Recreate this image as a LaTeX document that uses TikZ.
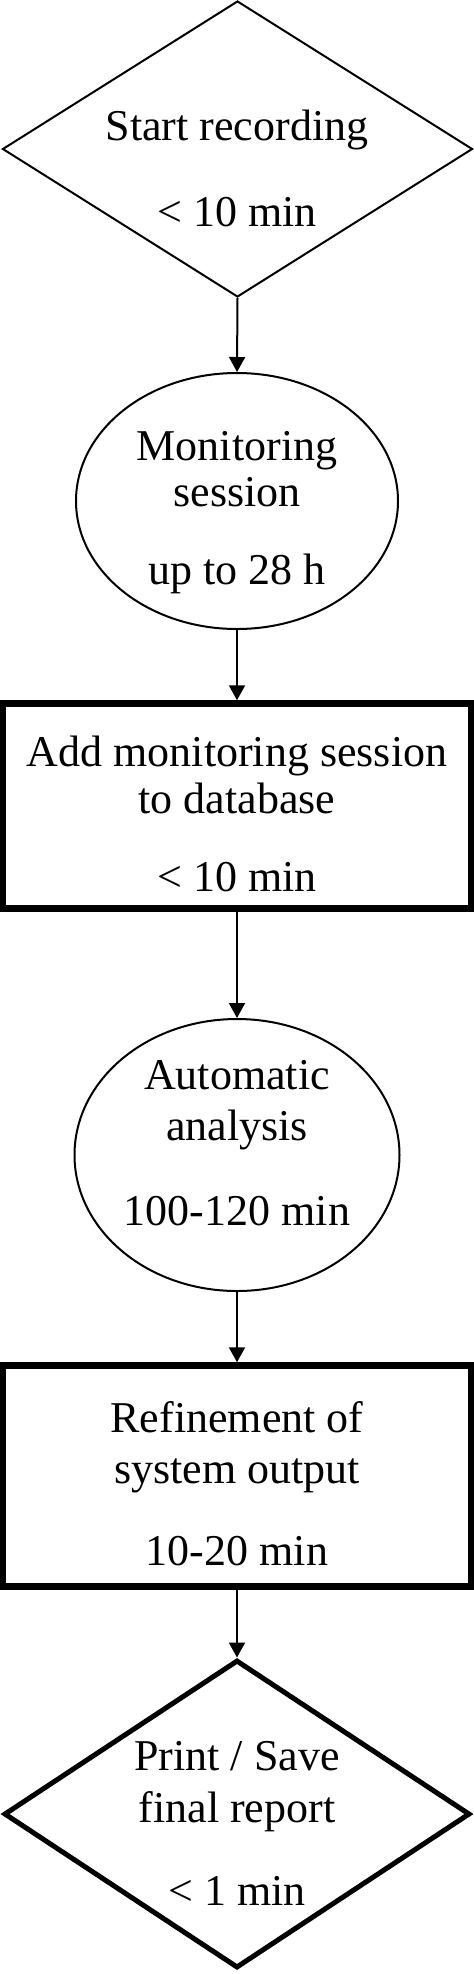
\documentclass[tikz,border=0pt]{standalone}
\usepackage{fontspec}
\setmainfont{Liberation Serif}
\usetikzlibrary{shapes.geometric,arrows.meta}
\tikzset{
  diamthin/.style={draw, diamond, inner sep=0pt, line width=2pt},
  diamthick/.style={draw, diamond, inner sep=0pt, line width=5pt},
  oval/.style={draw, ellipse, inner sep=0pt, line width=2pt},
  boxx/.style={draw, rectangle, inner sep=0pt, line width=6.5pt},
  txt/.style={anchor=base, inner sep=0pt, font=\fontsize{44pt}{46pt}\selectfont},
  conn/.style={line width=2pt, -{Triangle[width=16pt,length=15pt]}}
}
\begin{document}
\begin{tikzpicture}[x=1pt,y=-1pt]
\useasboundingbox (0,0) rectangle (474,1974);
% shapes
\node[diamthin, minimum width=470pt, minimum height=296pt] (d1) at (237.5,149) {};
\node[oval, minimum width=322pt, minimum height=256pt] (e1) at (237,501) {};
\node[boxx, minimum width=468pt, minimum height=205pt] (b1) at (237,806) {};
\node[oval, minimum width=325pt, minimum height=272pt] (e2) at (237,1155) {};
\node[boxx, minimum width=468pt, minimum height=221pt] (b2) at (237,1476) {};
\node[diamthick, minimum width=466pt, minimum height=308pt] (d2) at (237,1814) {};
% texts
\node[txt] (t1a) at (237,140) {Start recording};
\node[txt] (t1b) at (237,226) {< 10 min};
\node[txt] (t2a) at (237,460) {Monitoring};
\node[txt] (t2b) at (237,506) {session};
\node[txt] (t2c) at (237,584) {up to 28 h};
\node[txt] (t3a) at (237,766) {Add monitoring session};
\node[txt] (t3b) at (237,813) {to database};
\node[txt] (t3c) at (237,891) {< 10 min};
\node[txt] (t4a) at (237,1089) {Automatic};
\node[txt] (t4b) at (237,1140) {analysis};
\node[txt] (t4c) at (237,1225) {100-120 min};
\node[txt] (t5a) at (237,1432) {Refinement of};
\node[txt] (t5b) at (237,1483) {system output};
\node[txt] (t5c) at (237,1565) {10-20 min};
\node[txt] (t6a) at (237,1770) {Print / Save};
\node[txt] (t6b) at (237,1822) {final report};
\node[txt] (t6c) at (237,1905) {< 1 min};
% connectors
\draw[conn] (d1.south) -- (e1.north);
\draw[conn] (e1.south) -- (b1.north);
\draw[conn] (b1.south) -- (e2.north);
\draw[conn] (e2.south) -- (b2.north);
\draw[conn] (b2.south) -- (d2.north);
\end{tikzpicture}
\end{document}
